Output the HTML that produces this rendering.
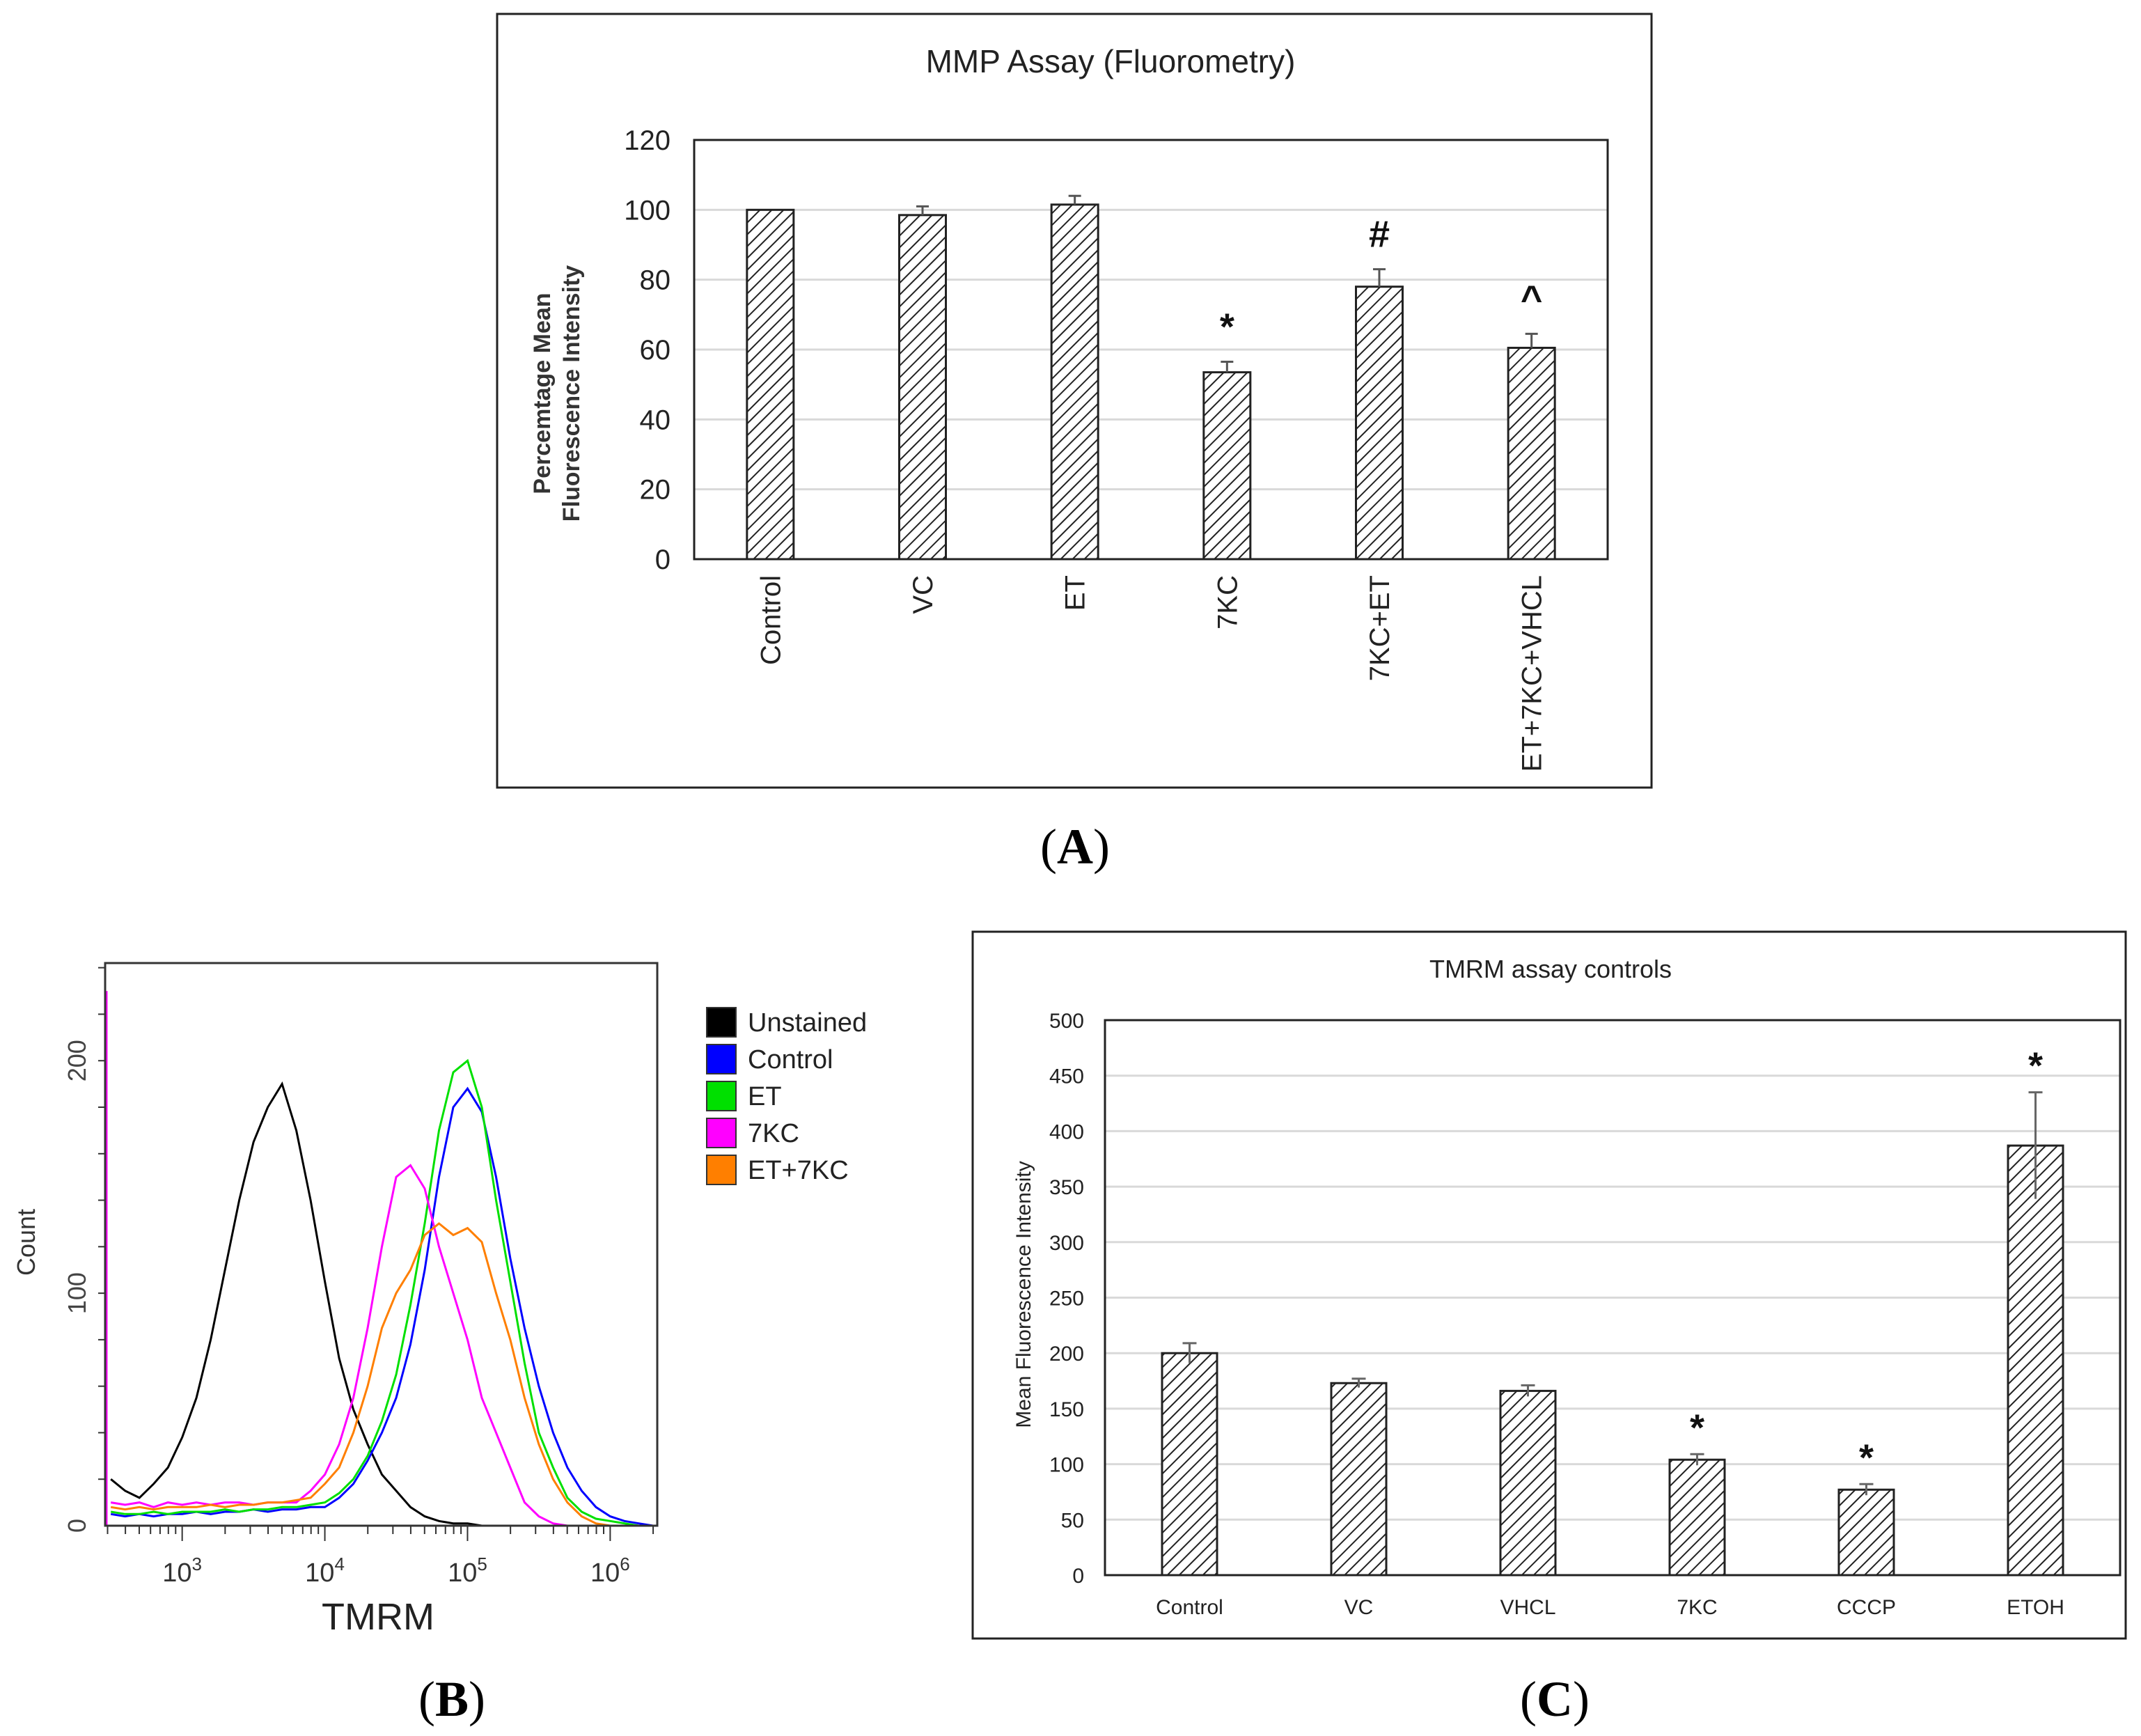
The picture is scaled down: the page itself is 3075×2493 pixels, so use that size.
<!DOCTYPE html>
<html><head><meta charset="utf-8"><style>
html,body{margin:0;padding:0;background:#fff}
svg{display:block;font-family:"Liberation Sans",sans-serif}
</style></head><body>
<svg id="fig" width="3075" height="2493" viewBox="0 0 3075 2493" xmlns="http://www.w3.org/2000/svg">
<defs>
<pattern id="hatch" patternUnits="userSpaceOnUse" width="12" height="12" patternTransform="rotate(45)">
<rect width="12" height="12" fill="#fff"/><line x1="0" y1="0" x2="0" y2="12" stroke="#222" stroke-width="4"/>
</pattern>
</defs>
<g id="pa"></g>
<g id="pb"></g>
<g id="pc"></g>
</svg>
<script>
// Panel A data
const aCats=["Control","VC","ET","7KC","7KC+ET","ET+7KC+VHCL"];
const aVals=[100,98.5,101.5,53.5,78,60.5];
const aErr=[0,2.5,2.5,3,5,4];
const aMarks=["","","","*","#","^"];
const aTicks=[0,20,40,60,80,100,120];
// Panel C data
const cCats=["Control","VC","VHCL","7KC","CCCP","ETOH"];
const cVals=[200,173,166,104,77,387];
const cErr=[9,4,5,5,5,48];
const cMarks=["","","","*","*","*"];
const cTicks=[0,50,100,150,200,250,300,350,400,450,500];
// Panel B data (log10 TMRM bins)
const bX=[2.5,2.6,2.7,2.8,2.9,3.0,3.1,3.2,3.3,3.4,3.5,3.6,3.7,3.8,3.9,4.0,4.1,4.2,4.3,4.4,4.5,4.6,4.7,4.8,4.9,5.0,5.1,5.2,5.3,5.4,5.5,5.6,5.7,5.8,5.9,6.0,6.1,6.2,6.3];
const bUnstained=[20,15,12,18,25,38,55,80,110,140,165,180,190,170,140,105,72,50,35,22,15,8,4,2,1,1,0,0,0,0,0,0,0,0,0,0,0,0,0];
const bControl=[5,4,5,4,5,5,6,5,6,6,7,6,7,7,8,8,12,18,28,40,55,78,110,150,180,188,178,150,115,85,60,40,25,15,8,4,2,1,0];
const bET=[6,5,5,6,5,6,6,6,7,6,7,7,8,8,9,10,14,20,30,45,65,95,130,170,195,200,180,140,105,70,40,25,12,6,3,2,1,0,0];
const b7KC=[10,9,10,8,10,9,10,9,10,10,9,10,10,10,15,22,35,55,85,120,150,155,145,120,100,80,55,40,25,10,4,1,0,0,0,0,0,0,0];
const bET7KC=[8,7,8,7,8,8,8,9,8,9,9,10,10,11,12,18,25,40,60,85,100,110,125,130,125,128,122,100,80,55,35,20,10,4,1,0,0,0,0];
const bSeries=[["Unstained","#000",bUnstained],["Control","#0000ff",bControl],["ET","#00e000",bET],["7KC","#ff00ff",b7KC],["ET+7KC","#ff7f00",bET7KC]];
const bYTicks=[0,100,200];
const bXTicks=[3,4,5,6];

const NS="http://www.w3.org/2000/svg";
function mk(p,t,a,txt){const e=document.createElementNS(NS,t);for(const k in a)e.setAttribute(k,a[k]);if(txt!==undefined)e.textContent=txt;p.appendChild(e);return e;}

// ---- Panel A ----
(function(){
const g=document.getElementById('pa');
const L=997,R=2309,T=201,B=803,max=120;
const y=v=>B-(v/max)*(B-T);
const step=(R-L)/aCats.length;
const x=i=>L+step*(i+0.5);
let e=mk(g,'rect',{x:714,y:20,width:1658,height:1111,fill:'none',stroke:'#222','stroke-width':3});

e=mk(g,'text',{x:1595,y:104,'font-size':46,'text-anchor':'middle',fill:'#222'},'MMP Assay (Fluorometry)');

aTicks.forEach(t=>{
 if(t>0&&t<max){const gl=mk(g,'line',{x1:L,x2:R,y1:y(t),y2:y(t),stroke:'#d9d9d9','stroke-width':3});}
 const tl=mk(g,'text',{x:L-34,y:y(t)+14,'font-size':40,'text-anchor':'end',fill:'#222'},String(t));
 
});
e=mk(g,'rect',{x:L,y:T,width:R-L,height:B-T,fill:'none',stroke:'#222','stroke-width':3});

const bw=67;
aVals.forEach((v,i)=>{
 const b=mk(g,'rect',{x:x(i)-bw/2,y:y(v),width:bw,height:B-y(v),fill:'url(#hatch)',stroke:'#222','stroke-width':3});
 
 if(aErr[i]>0){
  const el=mk(g,'path',{d:`M${x(i)},${y(v)} V${y(v+aErr[i])} M${x(i)-9},${y(v+aErr[i])} H${x(i)+9}`,stroke:'#555','stroke-width':3,fill:'none'});
  
 }
 if(aMarks[i]){
  const m=mk(g,'text',{x:x(i),y:y(v+aErr[i])-32,'font-size':54,'font-weight':'bold','text-anchor':'middle',fill:'#111'},aMarks[i]);
  
 }
 const c=mk(g,'text',{x:0,y:0,'font-size':40,'text-anchor':'end',fill:'#222',transform:`translate(${x(i)+14},${826}) rotate(-90)`},aCats[i]);
 
});
e=mk(g,'text',{x:0,y:0,'font-size':34,'font-weight':'bold','text-anchor':'middle',fill:'#333',transform:'translate(790,565) rotate(-90)'},'Percemtage Mean');

e=mk(g,'text',{x:0,y:0,'font-size':34,'font-weight':'bold','text-anchor':'middle',fill:'#333',transform:'translate(832,565) rotate(-90)'},'Fluorescence Intensity');

e=mk(g,'text',{x:1544,y:1240,'font-size':72,'text-anchor':'middle','font-family':'Liberation Serif, serif'});

e.innerHTML='(<tspan font-weight="bold">A</tspan>)';
})();

// ---- Panel B ----
(function(){
const g=document.getElementById('pb');
const L=151,R=944,T=1383,B=2191,xmin=2.46,xmax=6.33,ymax=242;
const x=v=>L+(v-xmin)/(xmax-xmin)*(R-L);
const y=v=>B-v/ymax*(B-T);
bSeries.forEach(s=>{
 let d='';
 s[2].forEach((v,i)=>{d+=(i?'L':'M')+x(bX[i]).toFixed(1)+','+y(v).toFixed(1)+' ';});
 const p=mk(g,'path',{d:d,fill:'none',stroke:s[1],'stroke-width':3});
 
});
let e=mk(g,'line',{x1:L+2,x2:L+2,y1:B,y2:y(230),stroke:'#ff00ff','stroke-width':3});

e=mk(g,'rect',{x:L,y:T,width:R-L,height:B-T,fill:'none',stroke:'#333','stroke-width':3});

for(let v=20;v<ymax;v+=20){const t=mk(g,'line',{x1:L-10,x2:L,y1:y(v),y2:y(v),stroke:'#333','stroke-width':2});}
bYTicks.forEach(t=>{
 const tl=mk(g,'text',{x:0,y:0,'font-size':36,'text-anchor':'middle',fill:'#444',transform:`translate(${L-28},${y(t)}) rotate(-90)`},String(t));
 
});
for(let dec=2;dec<=6;dec++){for(let m=1;m<10;m++){const lv=dec+Math.log10(m);if(lv<xmin||lv>xmax)continue;
 const t=mk(g,'line',{x1:x(lv),x2:x(lv),y1:B,y2:B+(m===1?22:12),stroke:'#333','stroke-width':2});}}
bXTicks.forEach(t=>{
 const tl=mk(g,'text',{x:x(t),y:B+80,'font-size':38,'text-anchor':'middle',fill:'#333'});
 tl.innerHTML='10<tspan font-size="26" dy="-16">'+t+'</tspan>';
 
});
e=mk(g,'text',{x:543,y:2340,'font-size':54,'text-anchor':'middle',fill:'#222'},'TMRM');

e=mk(g,'text',{x:0,y:0,'font-size':36,'text-anchor':'middle',fill:'#333',transform:'translate(50,1784) rotate(-90)'},'Count');

bSeries.forEach((s,i)=>{
 const yy=1447+i*53;
 const r=mk(g,'rect',{x:1015,y:yy,width:42,height:42,fill:s[1],stroke:'#333','stroke-width':2});
 
 const t=mk(g,'text',{x:1074,y:yy+34,'font-size':38,fill:'#222'},s[0]);
 
});
e=mk(g,'text',{x:649,y:2464,'font-size':72,'text-anchor':'middle','font-family':'Liberation Serif, serif'});
e.innerHTML='(<tspan font-weight="bold">B</tspan>)';

})();

// ---- Panel C ----
(function(){
const g=document.getElementById('pc');
const L=1587,R=3045,T=1465,B=2262,max=500;
const y=v=>B-(v/max)*(B-T);
const step=(R-L)/cCats.length;
const x=i=>L+step*(i+0.5);
let e=mk(g,'rect',{x:1397,y:1338,width:1656,height:1015,fill:'none',stroke:'#222','stroke-width':3});

e=mk(g,'text',{x:2227,y:1404,'font-size':36,'text-anchor':'middle',fill:'#222'},'TMRM assay controls');

cTicks.forEach(t=>{
 if(t>0&&t<max){const gl=mk(g,'line',{x1:L,x2:R,y1:y(t),y2:y(t),stroke:'#d9d9d9','stroke-width':3});}
 const tl=mk(g,'text',{x:L-30,y:y(t)+11,'font-size':30,'text-anchor':'end',fill:'#222'},String(t));
 
});
e=mk(g,'rect',{x:L,y:T,width:R-L,height:B-T,fill:'none',stroke:'#222','stroke-width':3});

const bw=79;
cVals.forEach((v,i)=>{
 const b=mk(g,'rect',{x:x(i)-bw/2,y:y(v),width:bw,height:B-y(v),fill:'url(#hatch)',stroke:'#222','stroke-width':3});
 
 const el=mk(g,'path',{d:`M${x(i)},${y(v-cErr[i])} V${y(v+cErr[i])} M${x(i)-10},${y(v+cErr[i])} H${x(i)+10}`,stroke:'#666','stroke-width':3,fill:'none'});
 
 if(cMarks[i]){
  const m=mk(g,'text',{x:x(i),y:y(v+cErr[i])-20,'font-size':54,'font-weight':'bold','text-anchor':'middle',fill:'#111'},cMarks[i]);
  
 }
 const c=mk(g,'text',{x:x(i),y:B+56,'font-size':30,'text-anchor':'middle',fill:'#222'},cCats[i]);
 
});
e=mk(g,'text',{x:0,y:0,'font-size':30,'text-anchor':'middle',fill:'#222',transform:'translate(1480,1859) rotate(-90)'},'Mean Fluorescence Intensity');

e=mk(g,'text',{x:2233,y:2464,'font-size':72,'text-anchor':'middle','font-family':'Liberation Serif, serif'});
e.innerHTML='(<tspan font-weight="bold">C</tspan>)';

})();
</script>
</body></html>
